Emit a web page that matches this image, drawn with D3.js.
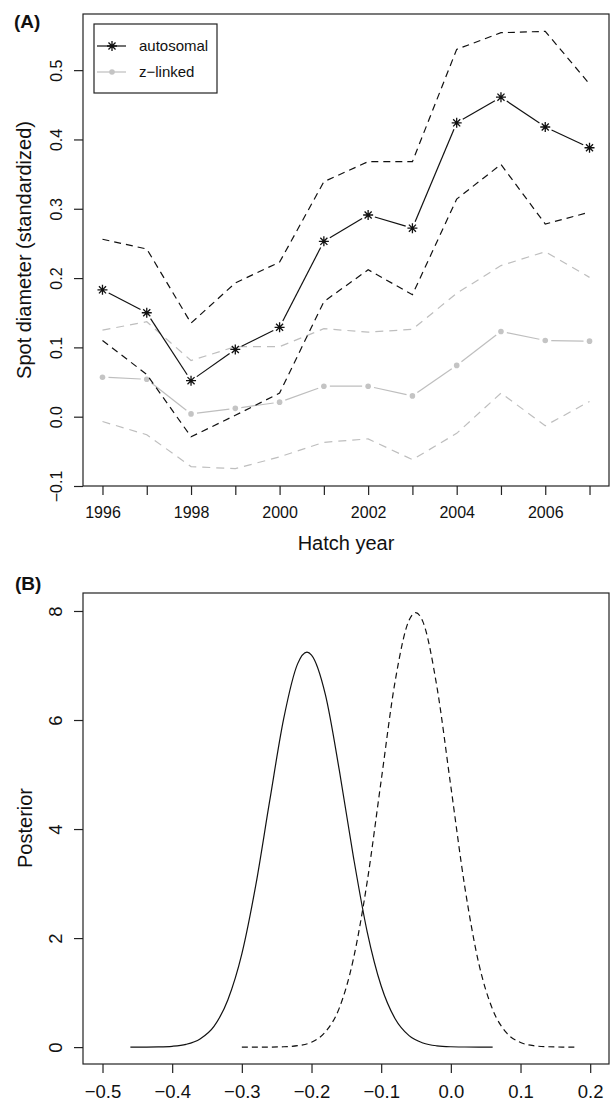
<!DOCTYPE html>
<html>
<head>
<meta charset="utf-8">
<script src="https://cdn.jsdelivr.net/npm/d3@7"></script>
<style>
  body { margin: 0; background: #fff; }
  svg text { font-family: "Liberation Sans", Arial, sans-serif; fill: #111; }
</style>
</head>
<body>
<div id="chart"></div>
<script>
// ---- panel A: spot diameter by hatch year ----
const years = [1996, 1997, 1998, 1999, 2000, 2001, 2002, 2003, 2004, 2005, 2006, 2007];
const autoMean  = [0.183, 0.150, 0.052, 0.097, 0.129, 0.253, 0.291, 0.272, 0.424, 0.461, 0.418, 0.388];
const autoUpper = [0.256, 0.242, 0.135, 0.193, 0.223, 0.339, 0.368, 0.368, 0.530, 0.554, 0.556, 0.480];
const autoLower = [0.110, 0.061, -0.029, 0.002, 0.034, 0.166, 0.212, 0.176, 0.314, 0.364, 0.278, 0.295];
const zMean  = [0.057, 0.054, 0.004, 0.012, 0.021, 0.044, 0.044, 0.030, 0.074, 0.123, 0.110, 0.109];
const zUpper = [0.125, 0.137, 0.081, 0.101, 0.101, 0.127, 0.122, 0.126, 0.178, 0.218, 0.238, 0.201];
const zLower = [-0.007, -0.026, -0.072, -0.075, -0.058, -0.037, -0.032, -0.062, -0.024, 0.034, -0.013, 0.022];
const yearLabels = [1996, 1998, 2000, 2002, 2004, 2006];
const spotTicks = [-0.1, 0.0, 0.1, 0.2, 0.3, 0.4, 0.5];

// ---- panel B: posterior densities ----
const solidX = [-0.46, -0.44, -0.42, -0.40, -0.38, -0.36, -0.34, -0.32, -0.30, -0.28, -0.26, -0.24, -0.22, -0.2065,
  -0.20, -0.18, -0.16, -0.14, -0.12, -0.10, -0.08, -0.06, -0.04, -0.02, 0.00, 0.02, 0.04, 0.06];
const solidY = [0.000, 0.001, 0.004, 0.015, 0.051, 0.15, 0.38, 0.87, 1.71, 2.97, 4.52, 6.02, 7.03, 7.245,
  7.19, 6.46, 5.07, 3.50, 2.11, 1.12, 0.52, 0.21, 0.076, 0.023, 0.006, 0.0015, 0.000, 0.000];
const dashX = [-0.30, -0.28, -0.26, -0.24, -0.22, -0.20, -0.18, -0.16, -0.14, -0.12, -0.10, -0.08, -0.06, -0.0506,
  -0.04, -0.02, 0.00, 0.02, 0.04, 0.06, 0.08, 0.10, 0.12, 0.14, 0.16, 0.18];
const dashY = [0.000, 0.000, 0.001, 0.006, 0.026, 0.09, 0.28, 0.72, 1.61, 3.04, 4.89, 6.71, 7.83, 7.97,
  7.80, 6.61, 4.78, 2.94, 1.54, 0.69, 0.26, 0.085, 0.024, 0.006, 0.001, 0.000];
const effectTicks = [-0.5, -0.4, -0.3, -0.2, -0.1, 0.0, 0.1, 0.2];
const postTicks = [0, 2, 4, 6, 8];

const black = '#111';
const grey = '#bebebe';
const minus = s => s.replace('-', '\u2212');

const svg = d3.select('#chart')
  .append('svg')
  .attr('width', 611)
  .attr('height', 1101);

// scales (R-style 4% padding on both axes)
const xA = d3.scaleLinear().domain([1995.56, 2007.44]).range([83, 609]);
const yA = d3.scaleLinear().domain([-0.1, 0.581]).range([486, 14]);
const xB = d3.scaleLinear().domain([-0.528, 0.227]).range([83, 609]);
const yB = d3.scaleLinear().domain([-0.31, 8.33]).range([1064, 593]);

function frame(x, y) {
  svg.append('rect')
    .attr('x', x.range()[0]).attr('y', y.range()[1])
    .attr('width', x.range()[1] - x.range()[0])
    .attr('height', y.range()[0] - y.range()[1])
    .attr('fill', 'none').attr('stroke', '#222').attr('stroke-width', 1.2);
}

function bottomAxis(x, y, ticks, labels, fmt, size) {
  const g = svg.append('g')
    .attr('transform', `translate(0,${y.range()[0]})`)
    .call(d3.axisBottom(x).tickValues(ticks).tickSize(9).tickSizeOuter(0)
      .tickFormat(d => labels.includes(d) ? fmt(d) : ''));
  g.select('.domain').remove();
  g.selectAll('line').attr('stroke', '#222').attr('stroke-width', 1.2);
  g.selectAll('text').attr('y', 21).attr('dy', '0.71em')
    .style('font-size', size + 'px').attr('fill', '#111');
}

function leftAxis(x, y, ticks, fmt, size) {
  const g = svg.append('g')
    .attr('transform', `translate(${x.range()[0]},0)`)
    .call(d3.axisLeft(y).tickValues(ticks).tickSize(9).tickSizeOuter(0).tickFormat(fmt));
  g.select('.domain').remove();
  g.selectAll('line').attr('stroke', '#222').attr('stroke-width', 1.2);
  g.selectAll('text')
    .attr('transform', 'rotate(-90)')
    .attr('x', 0).attr('y', -21).attr('dy', 0)
    .attr('text-anchor', 'middle')
    .style('font-size', size + 'px').attr('fill', '#111');
}

// R type="b": segments stop short of each point
function brokenLine(xs, ys, gap, color) {
  const pts = xs.map((v, i) => [xA(v), yA(ys[i])]);
  svg.append('g').selectAll('line')
    .data(d3.pairs(pts))
    .join('line')
    .each(function([a, b]) {
      const dx = b[0] - a[0], dy = b[1] - a[1];
      const len = Math.hypot(dx, dy);
      const ux = dx / len, uy = dy / len;
      d3.select(this)
        .attr('x1', a[0] + ux * gap).attr('y1', a[1] + uy * gap)
        .attr('x2', b[0] - ux * gap).attr('y2', b[1] - uy * gap);
    })
    .attr('stroke', color).attr('stroke-width', 1.2);
}

function dashedA(ys, color, dash) {
  svg.append('path')
    .datum(years.map((v, i) => [v, ys[i]]))
    .attr('fill', 'none').attr('stroke', color).attr('stroke-width', 1.2)
    .attr('stroke-dasharray', dash)
    .attr('d', d3.line().x(d => xA(d[0])).y(d => yA(d[1])));
}

const r = 5, a = r / Math.SQRT2;
const starPath = `M${-r},0H${r}M0,${-r}V${r}M${-a},${-a}L${a},${a}M${-a},${a}L${a},${-a}`;

// ---------- panel A ----------
frame(xA, yA);
bottomAxis(xA, yA, years, yearLabels, d => String(d), 16);
leftAxis(xA, yA, spotTicks, d => minus(d3.format('.1f')(d)), 16);

dashedA(zUpper, grey, '8,6');
dashedA(zLower, grey, '8,6');
brokenLine(years, zMean, 6, grey);
svg.append('g').selectAll('circle')
  .data(years)
  .join('circle')
  .attr('cx', d => xA(d)).attr('cy', (d, i) => yA(zMean[i]))
  .attr('r', 2.8).attr('fill', '#c4c4c4');

dashedA(autoUpper, black, '7,5');
dashedA(autoLower, black, '7,5');
brokenLine(years, autoMean, 7, black);
svg.append('g').selectAll('path')
  .data(years)
  .join('path')
  .attr('transform', (d, i) => `translate(${xA(d)},${yA(autoMean[i])})`)
  .attr('d', starPath)
  .attr('stroke', black).attr('stroke-width', 1.3).attr('fill', 'none');

// legend
const legend = svg.append('g');
legend.append('rect')
  .attr('x', 94).attr('y', 24).attr('width', 123).attr('height', 69)
  .attr('fill', '#fff').attr('stroke', '#222').attr('stroke-width', 1.2);
const legendItems = [
  { label: 'autosomal', color: black, star: true, y: 46 },
  { label: 'z\u2212linked', color: grey, star: false, y: 72 }
];
legendItems.forEach(d => {
  legend.append('line')
    .attr('x1', 97).attr('x2', 126).attr('y1', d.y).attr('y2', d.y)
    .attr('stroke', d.color).attr('stroke-width', 1.2);
  if (d.star) {
    legend.append('path')
      .attr('transform', `translate(112,${d.y})`)
      .attr('d', starPath).attr('stroke', black).attr('stroke-width', 1.3).attr('fill', 'none');
  } else {
    legend.append('circle').attr('cx', 112).attr('cy', d.y).attr('r', 2.8).attr('fill', '#c4c4c4');
  }
  legend.append('text')
    .attr('x', 139).attr('y', d.y).attr('dy', '0.35em')
    .style('font-size', '15px')
    .text(d.label);
});

svg.append('text')
  .attr('x', 346).attr('y', 550)
  .attr('text-anchor', 'middle').style('font-size', '20px')
  .text('Hatch year');
svg.append('text')
  .attr('transform', 'translate(31,250) rotate(-90)')
  .attr('text-anchor', 'middle').style('font-size', '20px')
  .text('Spot diameter (standardized)');
svg.append('text')
  .attr('x', 14).attr('y', 28)
  .style('font-size', '19px').style('font-weight', 'bold')
  .text('(A)');

// ---------- panel B ----------
frame(xB, yB);
bottomAxis(xB, yB, effectTicks, effectTicks, d => minus(d3.format('.1f')(d)), 18.5);
leftAxis(xB, yB, postTicks, d => String(d), 18.5);

const densLine = d3.line()
  .x(d => xB(d[0])).y(d => yB(d[1]))
  .curve(d3.curveMonotoneX);

svg.append('path')
  .datum(solidX.map((v, i) => [v, solidY[i]]))
  .attr('fill', 'none').attr('stroke', black).attr('stroke-width', 1.2)
  .attr('d', densLine);
svg.append('path')
  .datum(dashX.map((v, i) => [v, dashY[i]]))
  .attr('fill', 'none').attr('stroke', black).attr('stroke-width', 1.2)
  .attr('stroke-dasharray', '6,4')
  .attr('d', densLine);

svg.append('text')
  .attr('transform', 'translate(32,828) rotate(-90)')
  .attr('text-anchor', 'middle').style('font-size', '20px')
  .text('Posterior');
svg.append('text')
  .attr('x', 15).attr('y', 590)
  .style('font-size', '19px').style('font-weight', 'bold')
  .text('(B)');
</script>
</body>
</html>
